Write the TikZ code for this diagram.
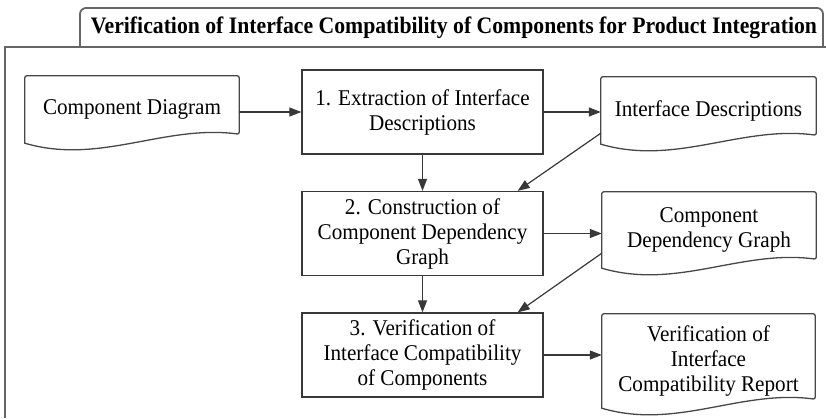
\documentclass[tikz,border=0pt]{standalone}
\usepackage{fontspec}
\setmainfont{Liberation Serif}[FakeStretch=0.94]
\newfontfamily\titlefont{Liberation Serif}[FakeStretch=0.92]
\usetikzlibrary{arrows.meta,calc}
\tikzset{
  procbox/.style={draw=black!78, line width=1.3pt, minimum width=241pt, minimum height=84pt, inner sep=0pt, align=center, font=\fontsize{22.5}{25}\selectfont},
  docnode/.style={draw=none, inner sep=0pt, align=center, font=\fontsize{22.5}{25}\selectfont},
  docline/.style={draw=black!72, line width=1.3pt},
  arr/.style={draw=black!78, line width=1.2pt, -{Triangle[length=12pt,width=9pt]}},
  frameline/.style={draw=black!60, line width=1.8pt}
}
\newcommand\docoutline[1]{%
  \draw[docline] let \p1=(#1.south west), \p2=(#1.north east) in
   (\x2,{\y1+9pt}) .. controls ({\x1+0.65*(\x2-\x1)},{\y1+19pt}) and ({\x1+0.35*(\x2-\x1)},{\y1-22pt}) .. (\x1,\y1)
   [rounded corners=2pt] -- (\x1,\y2) -- (\x2,\y2) -- cycle;}
\begin{document}
\begin{tikzpicture}[x=1pt,y=-1pt]
\useasboundingbox (0,0) rectangle (826,418);
% frame and tab
\draw[frameline] (5,418) -- (5,47) -- (826,47);
\draw[frameline, rounded corners=6pt] (80,47) -- (80,8) -- (823,8) [sharp corners] -- (823,47);
\node[font=\titlefont\bfseries\fontsize{23.6}{25}\selectfont, inner sep=0pt] (title) at (454,27.5) {Verification of Interface Compatibility of Components for Product Integration};
% process boxes
\node[procbox] (b1) at (422.5,112) {1. Extraction of Interface\\Descriptions};
\node[procbox] (b2) at (422.5,233.5) {2. Construction of\\Component Dependency\\Graph};
\node[procbox] (b3) at (422.5,355) {3. Verification of\\Interface Compatibility\\of Components};
% documents
\node[docnode, minimum width=214pt, minimum height=67pt] (cd) at (132,109.5) {Component Diagram};
\node[docnode, minimum width=215pt, minimum height=67pt] (id) at (708.5,110.5) {Interface Descriptions};
\node[docnode, minimum width=214pt, minimum height=76pt] (cdg) at (709,230) {Component\\Dependency Graph};
\node[docnode, minimum width=213pt, minimum height=94pt] (rep) at (708.5,361) {Verification of\\Interface\\Compatibility Report};
\docoutline{cd}
\docoutline{id}
\docoutline{cdg}
\docoutline{rep}
% arrows
\draw[arr] (cd.east |- b1.west) -- (b1.west);
\draw[arr] (b1.east) -- (id.west |- b1.east);
\draw[arr] (b1.south) -- (b2.north);
\draw[arr] ([yshift=11pt]id.south west) -- ([xshift=-26pt]b2.north east);
\draw[arr] (b2.east) -- (cdg.west |- b2.east);
\draw[arr] (b2.south) -- (b3.north);
\draw[arr] ([yshift=15pt]cdg.south west) -- ([xshift=-26pt]b3.north east);
\draw[arr] (b3.east) -- (rep.west |- b3.east);
\end{tikzpicture}
\end{document}
